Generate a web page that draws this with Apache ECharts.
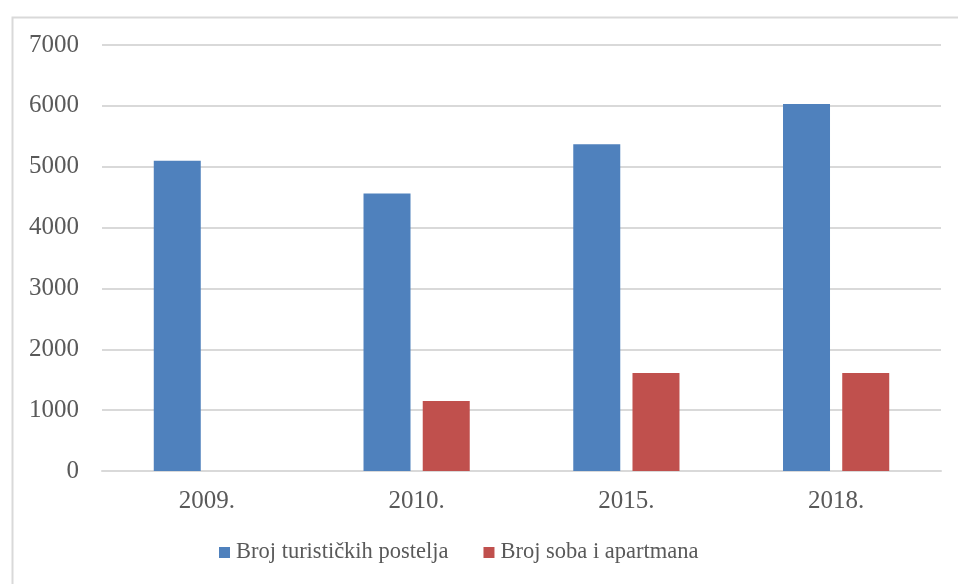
<!DOCTYPE html>
<html><head><meta charset="utf-8">
<script src="https://cdn.jsdelivr.net/npm/echarts@6/dist/echarts.min.js"></script>
<style>html,body{margin:0;padding:0;background:#fff}#c{width:958px;height:584px}</style>
</head><body><div id="c"></div>
<script>
const categories = ['2009.', '2010.', '2015.', '2018.'];
const seriesNames = ['Broj turističkih postelja', 'Broj soba i apartmana'];
const postelje = [5100, 4560, 5370, 6030];
const sobe = [null, 1150, 1610, 1610];
const yTicks = [0, 1000, 2000, 3000, 4000, 5000, 6000, 7000];

const FONT = 'Liberation Serif';
const chart = echarts.init(document.getElementById('c'), null, {renderer: 'canvas'});
chart.setOption({
  animation: false,
  backgroundColor: '#fff',
  graphic: [{type: 'rect', left: 10, top: 15, shape: {width: 1000, height: 600}, style: {fill: 'none', stroke: '#d9d9d9', lineWidth: 2}, silent: true}],
  grid: {left: 102, right: 17, top: 45, bottom: 113},
  legend: {
    bottom: 15, left: 214, itemWidth: 11, itemHeight: 11, itemGap: 35, icon: 'rect',
    textStyle: {fontFamily: FONT, fontSize: 22.5, color: '#595959', padding: [0, 0, 0, 1]},
    data: seriesNames
  },
  xAxis: {
    type: 'category', data: categories,
    axisLine: {lineStyle: {color: '#d9d9d9', width: 2}}, axisTick: {show: false},
    axisLabel: {fontFamily: FONT, fontSize: 25, color: '#595959', margin: 18}
  },
  yAxis: {
    type: 'value', min: yTicks[0], max: yTicks[yTicks.length - 1], interval: 1000,
    axisLine: {show: false}, axisTick: {show: false},
    axisLabel: {fontFamily: FONT, fontSize: 25, color: '#595959', margin: 23, formatter: v => String(v)},
    splitLine: {lineStyle: {color: '#d9d9d9', width: 2}}
  },
  series: [
    {name: seriesNames[0], type: 'bar', data: postelje, itemStyle: {color: '#4f81bd'}, barWidth: 47, barGap: '26%'},
    {name: seriesNames[1], type: 'bar', data: sobe, itemStyle: {color: '#c0504d'}, barWidth: 47, barGap: '26%'}
  ]
});
</script></body></html>
